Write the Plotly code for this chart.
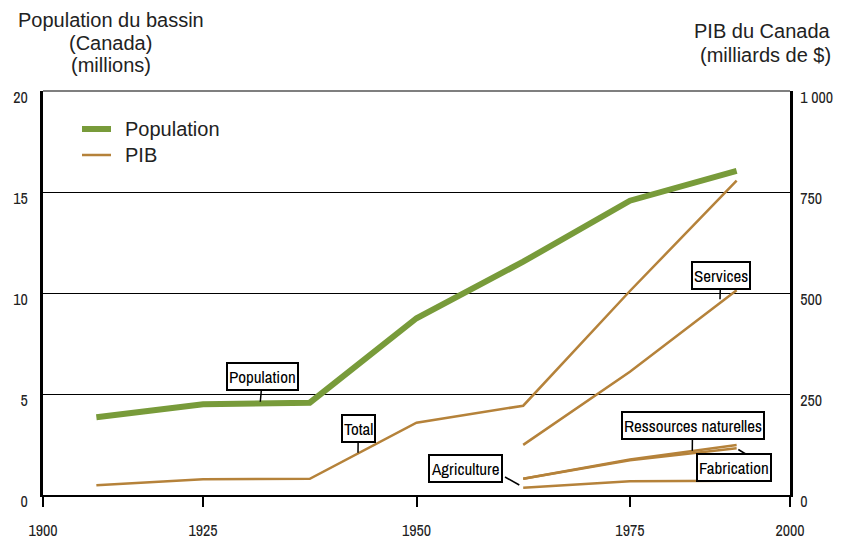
import plotly.graph_objects as go

# ---- data ----
x_pos = [0, 1, 2, 3, 4, 5, 6]            # periods (category slots)
x_late = [4, 5, 6]
tick_pos = [-0.5, 1, 3, 5, 6.5]
tick_years = ["1900", "1925", "1950", "1975", "2000"]

population = [3.85, 4.49, 4.57, 8.75, 11.55, 14.57, 16.05]       # millions
pib_total = [24, 39, 40, 179, 221, 505, 778]                      # milliards $
pib_services = [124, 305, 507]
pib_ressources = [40, 88, 124]
pib_fabrication = [40, 86, 116]
pib_agriculture = [18, 34, 35]

left_ticks = [0, 5, 10, 15, 20]
left_text = ["0", "5", "10", "15", "20"]
right_ticks = [0, 250, 500, 750, 1000]
right_text = ["0", "250", "500", "750", "1 000"]

left_title = ["Population du bassin", "(Canada)", "(millions)"]
right_title = ["PIB du Canada", "(milliards de $)"]
legend_names = ["Population", "PIB"]

GREEN = "#789B3A"
BROWN = "#B5823A"
NARROW = "Liberation Sans Narrow, Archivo Narrow, DejaVu Sans Condensed, Arial Narrow, sans-serif"
SANS = "Liberation Sans, Arial, Helvetica, sans-serif"

# plot area in pixels
L, R, T, B = 43, 790, 91, 495
W = R - L
H = B - T
def px_x(p):  # pixel -> x data (slot index)
    return (p - L) / W * 7 - 0.5
def px_y2(p):
    return (B - p) / H * 1000
def px_y(p):
    return (B - p) / H * 20
def pap_x(p):
    return (p - L) / W
def pap_y(p):
    return (B - p) / H

fig = go.Figure()

fig.add_trace(go.Scatter(x=x_pos, y=population, mode="lines", name=legend_names[0],
                         line=dict(color=GREEN, width=6), yaxis="y", showlegend=False))
fig.add_trace(go.Scatter(x=x_pos, y=pib_total, mode="lines", name=legend_names[1],
                         line=dict(color=BROWN, width=2.5), yaxis="y2", showlegend=False))
for series in (pib_services, pib_ressources, pib_fabrication, pib_agriculture):
    fig.add_trace(go.Scatter(x=x_late, y=series, mode="lines", showlegend=False,
                             line=dict(color=BROWN, width=2.5), yaxis="y2"))

annots = []
box_style = dict(bordercolor="black", borderwidth=2, borderpad=1, bgcolor="white",
                 font=dict(family=NARROW, size=17, color="black"))

def label_arrow(text, tip_px, box_center_px, yref="y2"):
    conv = px_y if yref == "y" else px_y2
    annots.append(dict(text=text, x=px_x(tip_px[0]), y=conv(tip_px[1]), xref="x", yref=yref,
                       ax=box_center_px[0] - tip_px[0], ay=box_center_px[1] - tip_px[1],
                       showarrow=True, arrowhead=0, arrowwidth=1.5, arrowcolor="black", **box_style))

def label_box(text, center_px):
    annots.append(dict(text=text, x=px_x(center_px[0]), y=px_y2(center_px[1]), xref="x", yref="y2",
                       xanchor="center", yanchor="middle", showarrow=False, **box_style))

label_arrow("Population", (260.3, 401.7), (262.5, 376.7), yref="y")
label_arrow("Total", (358, 452.7), (358.3, 428))
label_arrow("Services", (720, 299.3), (720.7, 275.3))
label_arrow("Ressources naturelles", (692.3, 450.7), (692.5, 425.8))
label_box("Fabrication", (734.2, 467))
label_box("Agriculture", (465.8, 468.7))

# title lines
for i, t in enumerate(left_title):
    annots.append(dict(text=t, xref="paper", yref="paper", x=pap_x(110.5), y=pap_y(20 + 22.5 * i),
                       xanchor="center", yanchor="middle", showarrow=False,
                       font=dict(family=SANS, size=20, color="#222")))
for i, t in enumerate(right_title):
    annots.append(dict(text=t, xref="paper", yref="paper", x=pap_x(833), y=pap_y(31 + 24 * i),
                       xanchor="right", yanchor="middle", showarrow=False,
                       font=dict(family=SANS, size=20, color="#222")))

# legend (drawn)
legend_rows = [(legend_names[0], GREEN, 6, 129), (legend_names[1], BROWN, 2.5, 155)]
shapes = []
for name, col, wdt, ypx in legend_rows:
    shapes.append(dict(type="line", xref="paper", yref="paper", x0=pap_x(82), x1=pap_x(111),
                       y0=pap_y(ypx), y1=pap_y(ypx), line=dict(color=col, width=wdt)))
    annots.append(dict(text=name, xref="paper", yref="paper", x=pap_x(123), y=pap_y(ypx),
                       xanchor="left", yanchor="middle", showarrow=False,
                       font=dict(family=SANS, size=20, color="#222")))

# leader lines for Fabrication / Agriculture boxes
shapes += [
    dict(type="line", xref="x", yref="y2", x0=px_x(749), y0=px_y2(456), x1=px_x(738.3), y1=px_y2(449.5),
         line=dict(color="black", width=1.5)),
    dict(type="line", xref="x", yref="y2", x0=px_x(505), y0=px_y2(477), x1=px_x(519.3), y1=px_y2(485),
         line=dict(color="black", width=1.5)),
    # top frame line
    dict(type="line", xref="paper", yref="paper", x0=0, x1=1, y0=1, y1=1,
         line=dict(color="black", width=1.2), layer="below"),
]

fig.update_layout(
    width=841, height=541,
    margin=dict(l=L, r=841 - R, t=T, b=541 - B),
    paper_bgcolor="white", plot_bgcolor="white",
    showlegend=False,
    annotations=annots,
    shapes=shapes,
    xaxis=dict(range=[-0.5, 6.5], tickvals=tick_pos, ticktext=tick_years, automargin=False,
               showgrid=False, zeroline=False, showline=True, linecolor="black", linewidth=2,
               ticks="outside", ticklen=10, tickwidth=2, tickcolor="black",
               ticklabelstandoff=10,
               tickfont=dict(family=NARROW, size=16, color="#222")),
    yaxis=dict(range=[0, 20], tickvals=left_ticks, ticktext=left_text, automargin=False,
               showgrid=True, gridcolor="black", gridwidth=1, zeroline=False,
               showline=True, linecolor="black", linewidth=3, ticks="",
               ticklabelstandoff=9, ticklabelshift=6,
               tickfont=dict(family=NARROW, size=16, color="#222")),
    yaxis2=dict(range=[0, 1000], tickvals=right_ticks, ticktext=right_text, automargin=False,
                overlaying="y", side="right", showgrid=False, zeroline=False,
                showline=True, linecolor="black", linewidth=3, ticks="",
                ticklabelstandoff=4, ticklabelshift=6,
                tickfont=dict(family=NARROW, size=16, color="#222")),
)

fig.write_html("out.html")
